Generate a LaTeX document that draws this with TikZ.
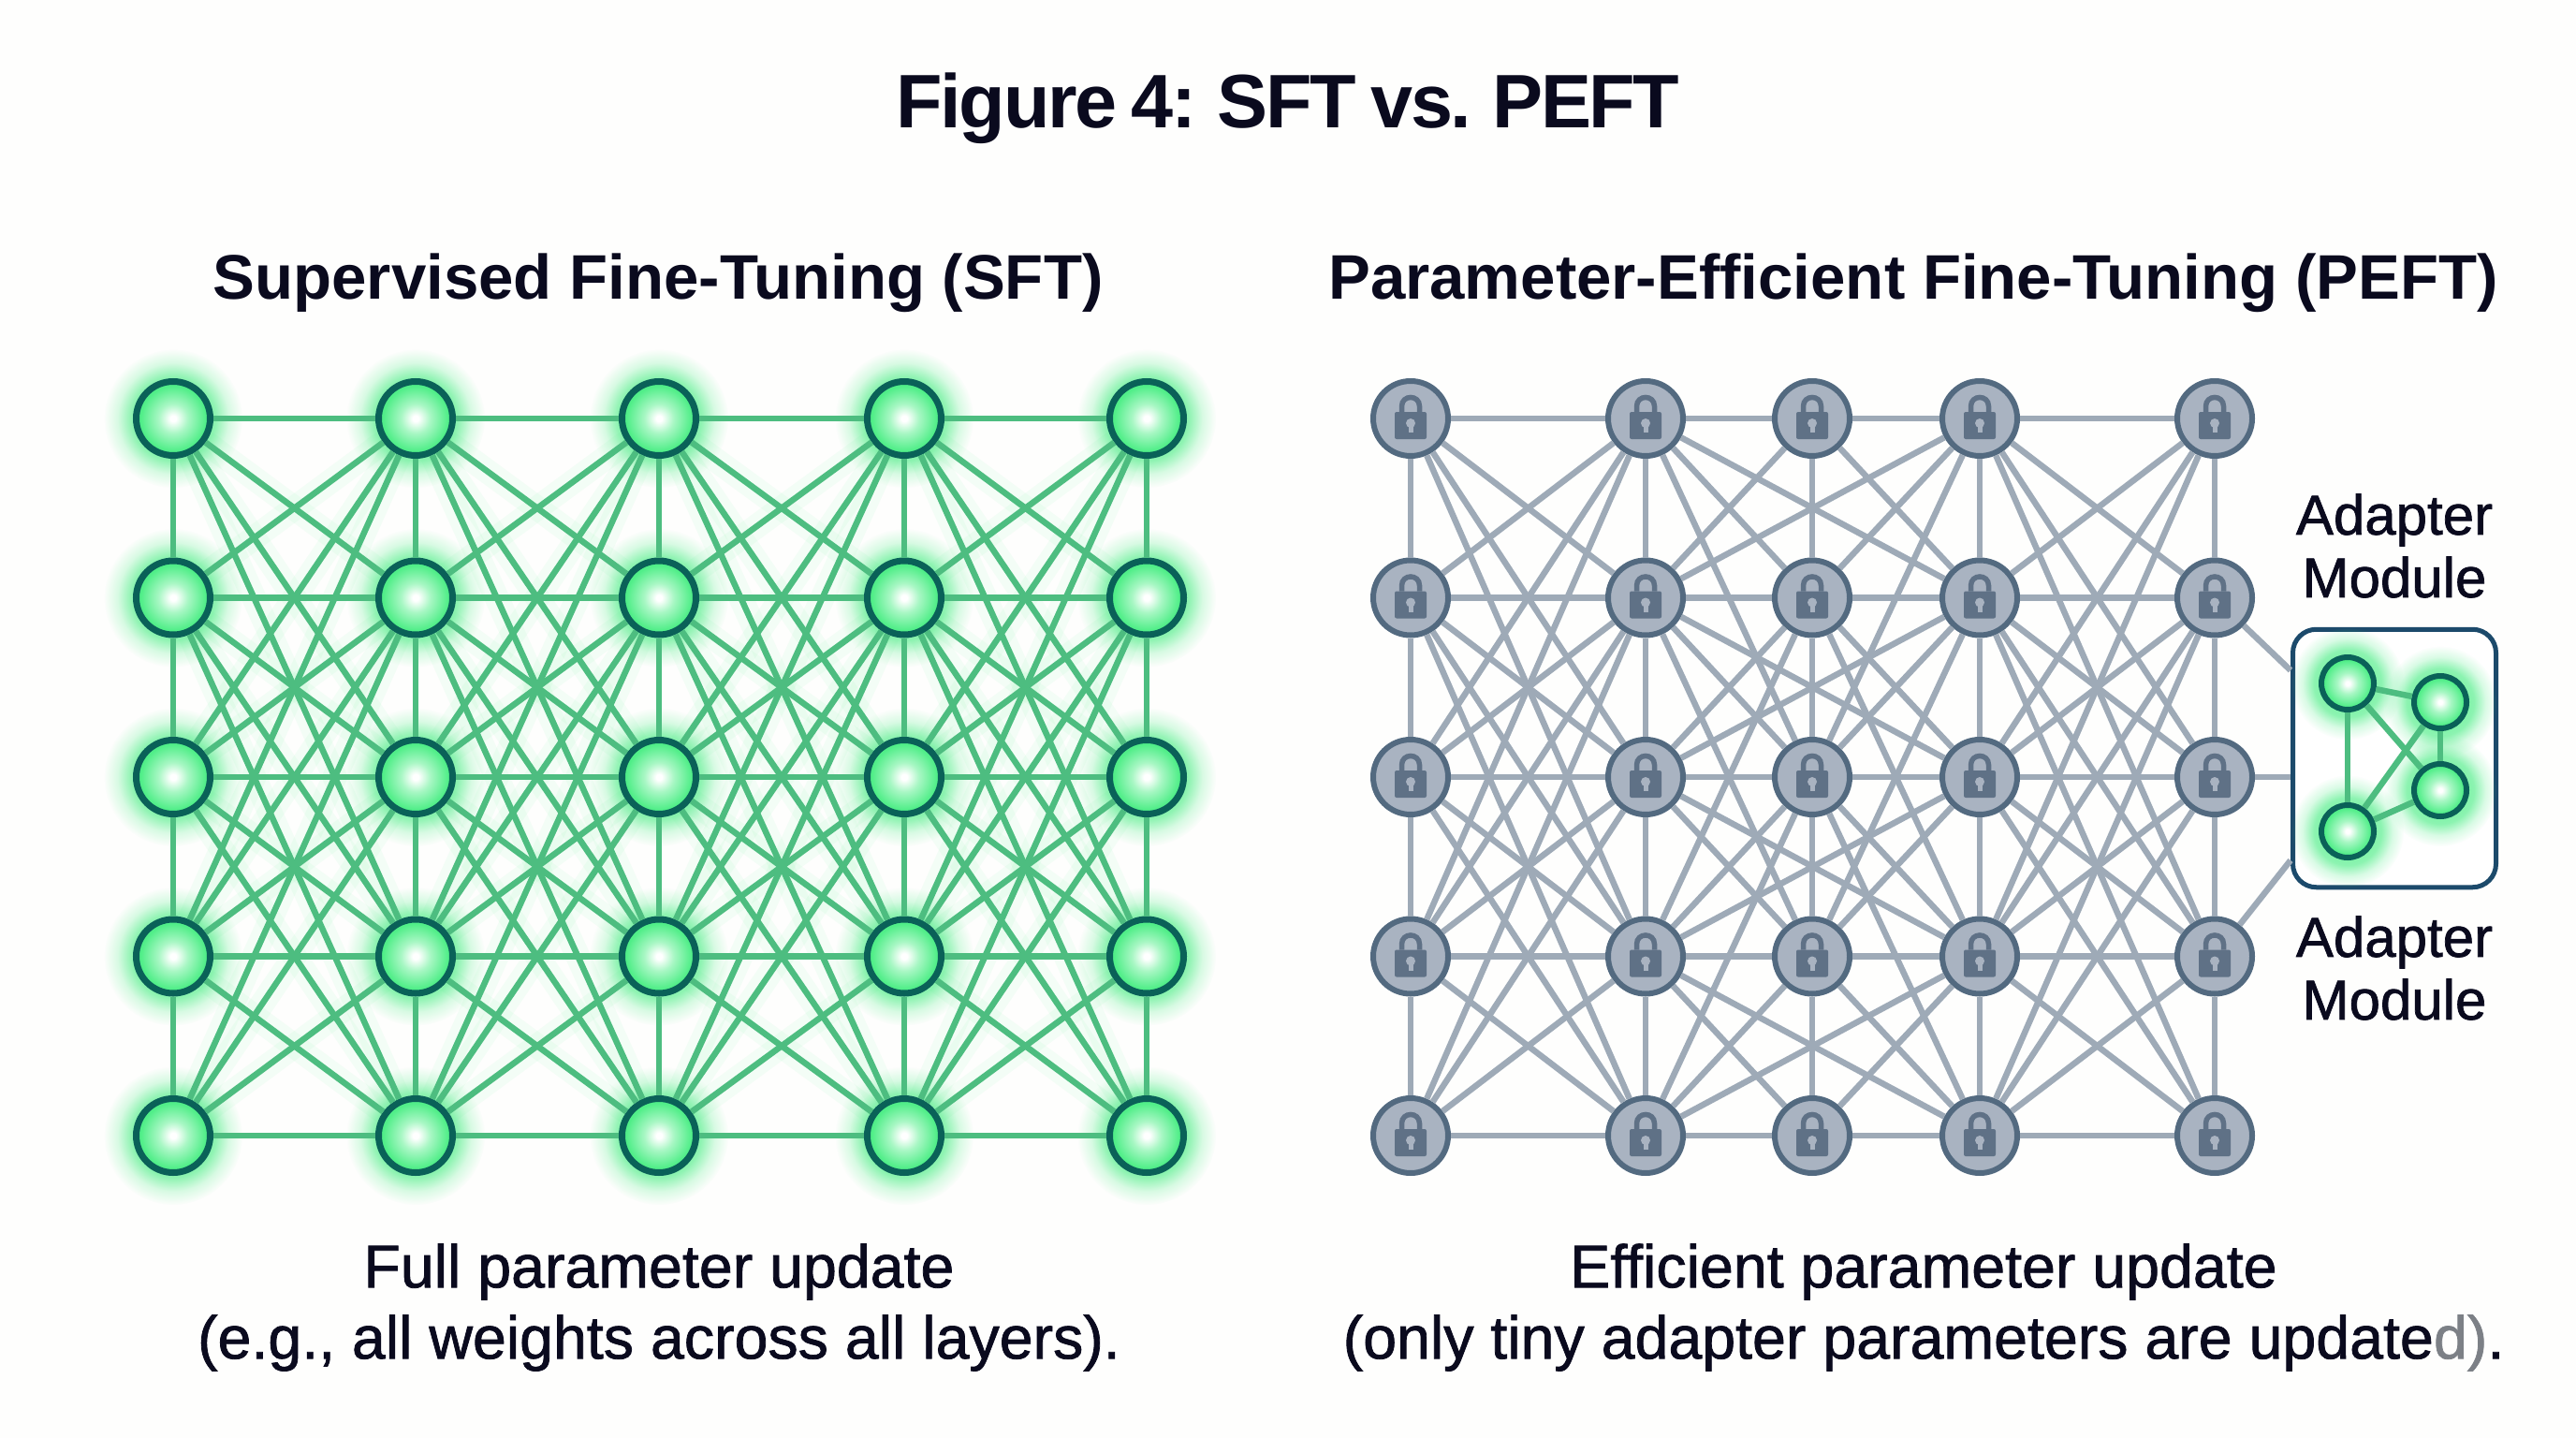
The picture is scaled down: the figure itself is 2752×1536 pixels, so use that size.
\documentclass[tikz,border=0pt]{standalone}
\usepackage{fontspec}
\setmainfont{Liberation Sans}
\newfontfamily\medfont[RawFeature={embolden=1.2}]{Liberation Sans}
\newfontfamily\tightbold[LetterSpace=-3,WordSpace=0.78]{Liberation Sans Bold}
\usetikzlibrary{fadings}
\definecolor{pagewhite}{HTML}{FEFEFD}
\definecolor{inkdark}{HTML}{0A0A1E}
\definecolor{nodegreen}{HTML}{50EE88}
\definecolor{midgreen}{HTML}{A8F7C4}
\definecolor{rimgreen}{HTML}{0A6158}
\definecolor{edgegreen}{HTML}{4DBD80}
\definecolor{nodegray}{HTML}{A9B3C1}
\definecolor{rimgray}{HTML}{536A80}
\definecolor{edgegray}{HTML}{9EAAB7}
\definecolor{lockdark}{HTML}{5F7186}
\definecolor{boxnavy}{HTML}{1C4A6B}
\definecolor{stain}{HTML}{7C8086}
\pgfdeclareradialshading{bulb}{\pgfpoint{0bp}{0bp}}{color(0bp)=(white); color(2bp)=(white); color(10bp)=(midgreen); color(22bp)=(nodegreen); color(50bp)=(nodegreen)}
\pgfdeclareradialshading{halostops}{\pgfpoint{0bp}{0bp}}{color(0bp)=(pgftransparent!0); color(15bp)=(pgftransparent!35); color(20bp)=(pgftransparent!78); color(25bp)=(pgftransparent!100); color(50bp)=(pgftransparent!100)}
\pgfdeclarefading{halofade}{\pgfuseshading{halostops}}
\tikzset{
	gnode/.style={circle,draw=rimgreen,line width=7pt,shading=bulb,minimum size=79pt,inner sep=0pt},
	anode/.style={circle,draw=rimgreen,line width=6pt,shading=bulb,minimum size=56pt,inner sep=0pt},
	pnode/.style={circle,draw=rimgray,line width=6pt,fill=nodegray,minimum size=80pt,inner sep=0pt},
	gedge/.style={draw=edgegreen,line width=6.5pt},
	gglow/.style={draw=nodegreen,line width=26pt,opacity=0.06},
	pedge/.style={draw=edgegray,line width=6.5pt},
	halo/.style={fill=nodegreen,path fading=halofade},
	titletext/.style={font=\fontsize{81}{90}\selectfont\tightbold,text=inkdark,inner sep=0pt,anchor=base},
	headtext/.style={font=\fontsize{67.2}{76}\selectfont\bfseries,text=inkdark,inner sep=0pt,anchor=base},
	notetext/.style={font=\fontsize{64.5}{76}\selectfont\medfont,text=inkdark,inner sep=0pt,align=center},
	sidetext/.style={font=\fontsize{60}{67}\selectfont\medfont,text=inkdark,inner sep=0pt,align=center},
	lockicon/.pic={
		\fill[lockdark,rounded corners=2pt] (-17,-7) rectangle (17,22);
		\draw[lockdark,line width=5.5pt] (-9.5,-7)--(-9.5,-13) .. controls (-9.5,-25.7) and (9.5,-25.7) .. (9.5,-13)--(9.5,-7);
		\fill[nodegray] (0,5) circle (5pt);
		\fill[nodegray] (-2.5,5) rectangle (2.5,15);
	}
}
\begin{document}
\begin{tikzpicture}[x=1pt,y=-1pt]
	\useasboundingbox[fill=pagewhite] (0,0) rectangle (2752,1536);
	% texts
	\node[titletext] (fig) at (1376,136) {Figure 4: SFT vs. PEFT};
	\node[headtext] (sfthead) at (703,319) {Supervised Fine-Tuning (SFT)};
	\node[headtext] (pefthead) at (2044,319) {Parameter-Efficient Fine-Tuning (PEFT)};
	\node[notetext] (sftnote) at (704,1396.5) {Full parameter update\\(e.g., all weights across all layers).};
	\node[notetext] (peftnote) at (2055,1396.5) {Efficient parameter update\\(only tiny adapter parameters are update\textcolor{stain}{d)}.};
	\node[sidetext] (adtop) at (2558,583) {Adapter\\Module};
	\node[sidetext] (adlow) at (2558,1034) {Adapter\\Module};
	% left network
	\foreach \c/\x in {1/185,2/444,3/704,4/966,5/1225}
		\foreach \r/\y in {1/447,2/638.5,3/830,4/1021.5,5/1213}
			\fill[halo] (\x,\y) circle (74pt);
	\foreach \c/\x in {1/185,2/444,3/704,4/966,5/1225}
		\foreach \r/\y in {1/447,2/638.5,3/830,4/1021.5,5/1213}
			\node[gnode] (g-\c-\r) at (\x,\y) {};
	\foreach \c/\d in {1/2,2/3,3/4,4/5}
		\foreach \r in {1,...,5}
			\foreach \s in {1,...,5}{
				\pgfmathtruncatemacro\gap{abs(\r-\s)}
				\ifnum\gap>0 \ifnum\gap<4 \draw[gglow] (g-\c-\r)--(g-\d-\s); \fi\fi
			}
	\foreach \c/\d in {1/2,2/3,3/4,4/5}
		\foreach \r in {1,...,5}
			\foreach \s in {1,...,5}{
				\pgfmathtruncatemacro\gap{abs(\r-\s)}
				\ifnum\gap<4 \draw[gedge] (g-\c-\r)--(g-\d-\s); \fi
			}
	\foreach \c in {1,...,5}
		\foreach \r/\s in {1/2,2/3,3/4,4/5}
			\draw[gedge] (g-\c-\r)--(g-\c-\s);
	% right network
	\foreach \c/\x in {1/1507,2/1758,3/1936,4/2115,5/2366}
		\foreach \r/\y in {1/447,2/638.5,3/830,4/1021.5,5/1213}{
			\node[pnode] (p-\c-\r) at (\x,\y) {};
			\pic at (p-\c-\r) {lockicon};
		}
	\foreach \c/\d in {1/2,4/5}
		\foreach \r in {1,...,5}
			\foreach \s in {1,...,5}{
				\pgfmathtruncatemacro\gap{abs(\r-\s)}
				\ifnum\gap<4 \draw[pedge] (p-\c-\r)--(p-\d-\s); \fi
			}
	\foreach \r in {1,...,5}
		\foreach \s in {1,...,5}{
			\pgfmathtruncatemacro\gap{abs(\r-\s)}
			\ifnum\gap<2
				\draw[pedge] (p-2-\r)--(p-3-\s);
				\draw[pedge] (p-3-\r)--(p-4-\s);
			\fi
			\ifnum\gap=1 \draw[pedge] (p-2-\r)--(p-4-\s); \fi
		}
	\foreach \r/\s in {3/1,3/5,2/4,4/2}{
		\draw[pedge] (p-3-\r)--(p-2-\s);
		\draw[pedge] (p-3-\r)--(p-4-\s);
	}
	\foreach \c in {1,...,5}
		\foreach \r/\s in {1/2,2/3,3/4,4/5}
			\draw[pedge] (p-\c-\r)--(p-\c-\s);
	% adapter module
	\node[draw=boxnavy,line width=5pt,fill=white,rounded corners=25pt,minimum width=217pt,minimum height=275.5pt,inner sep=0pt] (adapter) at (2558,810) {};
	\coordinate (in2) at (adapter.west |- 0,716);
	\coordinate (in3) at (adapter.west |- 0,830);
	\coordinate (in4) at (adapter.west |- 0,919);
	\foreach \r in {2,3,4}
		\draw[pedge] (p-5-\r)--(in\r);
	\foreach \i/\x/\y in {1/2508/730,2/2607/750,3/2607/844,4/2508/888}{
		\fill[halo] (\x,\y) circle (60pt);
		\node[anode] (a\i) at (\x,\y) {};
	}
	\foreach \i/\j in {1/2,1/3,1/4,2/3,2/4,3/4}
		\draw[gedge] (a\i)--(a\j);
\end{tikzpicture}
\end{document}
